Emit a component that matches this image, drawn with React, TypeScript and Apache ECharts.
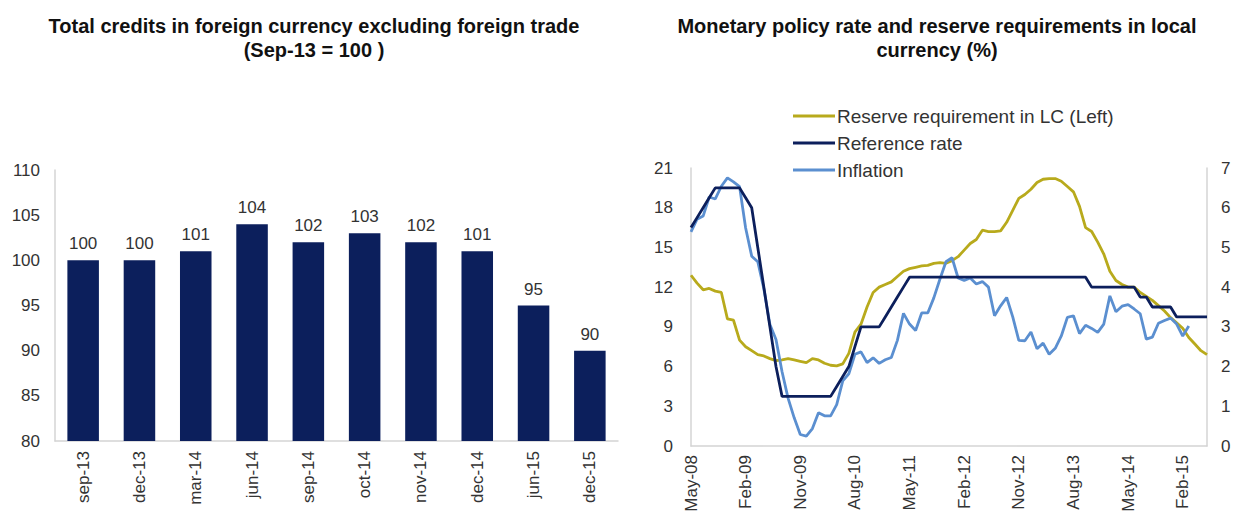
import React, { useEffect, useRef } from "react";
import * as echarts from "echarts";

const FONT = "'Liberation Sans', Arial, sans-serif";

const barCategories = ["sep-13", "dec-13", "mar-14", "jun-14", "sep-14", "oct-14", "nov-14", "dec-14", "jun-15", "dec-15"];
const barValues = [100, 100, 101, 104, 102, 103, 102, 101, 95, 90];
const barTicks = { min: 80, max: 110, interval: 5 };

const MONTH_NAMES = ["Jan", "Feb", "Mar", "Apr", "May", "Jun", "Jul", "Aug", "Sep", "Oct", "Nov", "Dec"];
const monthCategories: string[] = [];
for (let i = 0; i < 86; i++) {
  const m = (4 + i) % 12;
  const y = 8 + Math.floor((4 + i) / 12);
  monthCategories.push(`${MONTH_NAMES[m]}-${String(y).padStart(2, "0")}`);
}

const reserveRequirement = [
  12.9, 12.3, 11.8, 11.9, 11.7, 11.6, 9.6, 9.5, 8.0, 7.5,
  7.2, 6.9, 6.8, 6.6, 6.45, 6.5, 6.6, 6.5, 6.4, 6.3,
  6.6, 6.5, 6.25, 6.1, 6.05, 6.2, 7.0, 8.6, 9.2, 10.5,
  11.6, 12.0, 12.2, 12.4, 12.8, 13.2, 13.4, 13.5, 13.6, 13.65,
  13.8, 13.85, 13.8, 14.0, 14.3, 14.8, 15.3, 15.6, 16.3, 16.2,
  16.2, 16.25, 16.9, 17.8, 18.7, 19.0, 19.4, 19.9, 20.15, 20.2,
  20.2, 20.0, 19.6, 19.2, 18.1, 16.5, 16.2, 15.4, 14.5, 13.2,
  12.5, 12.2, 12.0, 12.0, 11.6, 11.3, 11.0, 10.6, 10.2, 9.7,
  9.3, 8.9, 8.2, 7.7, 7.2, 6.9,
];

const referenceRate = [
  5.5, 5.75, 6.0, 6.25, 6.5, 6.5, 6.5, 6.5, 6.5, 6.25,
  6.0, 5.0, 4.0, 3.0, 2.0, 1.25, 1.25, 1.25, 1.25, 1.25,
  1.25, 1.25, 1.25, 1.25, 1.5, 1.75, 2.0, 2.5, 3.0, 3.0,
  3.0, 3.0, 3.25, 3.5, 3.75, 4.0, 4.25, 4.25, 4.25, 4.25,
  4.25, 4.25, 4.25, 4.25, 4.25, 4.25, 4.25, 4.25, 4.25, 4.25,
  4.25, 4.25, 4.25, 4.25, 4.25, 4.25, 4.25, 4.25, 4.25, 4.25,
  4.25, 4.25, 4.25, 4.25, 4.25, 4.25, 4.0, 4.0, 4.0, 4.0,
  4.0, 4.0, 4.0, 4.0, 3.75, 3.75, 3.5, 3.5, 3.5, 3.5,
  3.25, 3.25, 3.25, 3.25, 3.25, 3.25,
];

const inflation = [
  5.39, 5.71, 5.79, 6.27, 6.22, 6.54, 6.75, 6.65, 6.53, 5.49,
  4.78, 4.64, 3.96, 3.06, 2.68, 1.87, 1.2, 0.71, 0.29, 0.25,
  0.44, 0.84, 0.76, 0.76, 1.04, 1.64, 1.82, 2.31, 2.37, 2.1,
  2.22, 2.08, 2.17, 2.23, 2.66, 3.34, 3.07, 2.91, 3.35, 3.35,
  3.73, 4.2, 4.64, 4.74, 4.23, 4.17, 4.23, 4.08, 4.14, 4.0,
  3.28, 3.53, 3.74, 3.25, 2.66, 2.65, 2.87, 2.45, 2.59, 2.31,
  2.46, 2.77, 3.24, 3.28, 2.83, 3.04, 2.96, 2.86, 3.07, 3.78,
  3.38, 3.52, 3.56, 3.45, 3.33, 2.69, 2.74, 3.09, 3.16, 3.22,
  3.07, 2.77, 3.02, null, null, null,
];

const leftTicks = { min: 0, max: 21, interval: 3 };
const rightTicks = { min: 0, max: 7, interval: 1 };

const NAVY = "#0c1f5c";
const GOLD = "#b8aa1c";
const LIGHTBLUE = "#5b8fd0";
const AXIS = "#d4d4d4";
const LABEL = "#333333";

export default function App() {
  const ref = useRef<HTMLDivElement>(null);
  useEffect(() => {
    if (!ref.current) return;
    const chart = echarts.init(ref.current, undefined, { renderer: "svg" });
    const axisLine = { show: true, lineStyle: { color: AXIS, width: 1.5 } };
    const labelStyle = { color: LABEL, fontSize: 17, fontFamily: FONT };
    const titleStyle = { fontFamily: FONT, fontSize: 20, fontWeight: "bold", color: "#111", lineHeight: 24 };
    chart.setOption({
      animation: false,
      backgroundColor: "#ffffff",
      title: [
        {
          text: "Total credits in foreign currency excluding foreign trade\n(Sep-13 = 100 )",
          left: 309,
          top: 9,
          textAlign: "center",
          textStyle: titleStyle,
        },
        {
          text: "Monetary policy rate and reserve requirements in local\ncurrency (%)",
          left: 932,
          top: 9,
          textAlign: "center",
          textStyle: titleStyle,
        },
      ],
      legend: {
        orient: "vertical",
        left: 788,
        top: 101,
        itemWidth: 42,
        itemHeight: 3,
        itemGap: 7,
        icon: "rect",
        textStyle: { fontFamily: FONT, fontSize: 19, color: LABEL, lineHeight: 20, padding: [0, 0, 0, -3] },
        data: ["Reserve requirement in LC (Left)", "Reference rate", "Inflation"],
      },
      grid: [
        { left: 55, top: 170, width: 563, height: 271 },
        { left: 691, top: 168, width: 516, height: 278 },
      ],
      xAxis: [
        {
          type: "category",
          gridIndex: 0,
          data: barCategories,
          axisLine,
          axisTick: { show: false },
          axisLabel: { ...labelStyle, rotate: 90, margin: 10 },
        },
        {
          type: "category",
          gridIndex: 1,
          data: monthCategories,
          boundaryGap: false,
          axisLine,
          axisTick: { show: false },
          axisLabel: { ...labelStyle, rotate: 90, margin: 9, interval: 8 },
        },
      ],
      yAxis: [
        {
          type: "value",
          gridIndex: 0,
          ...barTicks,
          axisLine,
          axisTick: { show: false },
          splitLine: { show: false },
          axisLabel: { ...labelStyle, margin: 15 },
        },
        {
          type: "value",
          gridIndex: 1,
          position: "left",
          ...leftTicks,
          axisLine,
          axisTick: { show: false },
          splitLine: { show: false },
          axisLabel: { ...labelStyle, margin: 18 },
        },
        {
          type: "value",
          gridIndex: 1,
          position: "right",
          ...rightTicks,
          axisLine,
          axisTick: { show: false },
          splitLine: { show: false },
          axisLabel: { ...labelStyle, margin: 14 },
        },
      ],
      series: [
        {
          type: "bar",
          xAxisIndex: 0,
          yAxisIndex: 0,
          data: barValues,
          barWidth: "56%",
          itemStyle: { color: NAVY },
          label: { show: true, position: "top", ...labelStyle, distance: 8 },
        },
        {
          name: "Reserve requirement in LC (Left)",
          type: "line",
          xAxisIndex: 1,
          yAxisIndex: 1,
          data: reserveRequirement,
          showSymbol: false,
          symbol: "none",
          lineStyle: { color: GOLD, width: 2.8 },
          itemStyle: { color: GOLD },
        },
        {
          name: "Inflation",
          type: "line",
          xAxisIndex: 1,
          yAxisIndex: 2,
          data: inflation,
          showSymbol: false,
          symbol: "none",
          connectNulls: false,
          lineStyle: { color: LIGHTBLUE, width: 2.8 },
          itemStyle: { color: LIGHTBLUE },
        },
        {
          name: "Reference rate",
          type: "line",
          xAxisIndex: 1,
          yAxisIndex: 2,
          data: referenceRate,
          showSymbol: false,
          symbol: "none",
          lineStyle: { color: NAVY, width: 2.8 },
          itemStyle: { color: NAVY },
        },
      ],
    });
    return () => chart.dispose();
  }, []);
  return (
    <div
      ref={ref}
      style={{ position: "absolute", left: 0, top: 0, width: 1237, height: 518 }}
    />
  );
}
